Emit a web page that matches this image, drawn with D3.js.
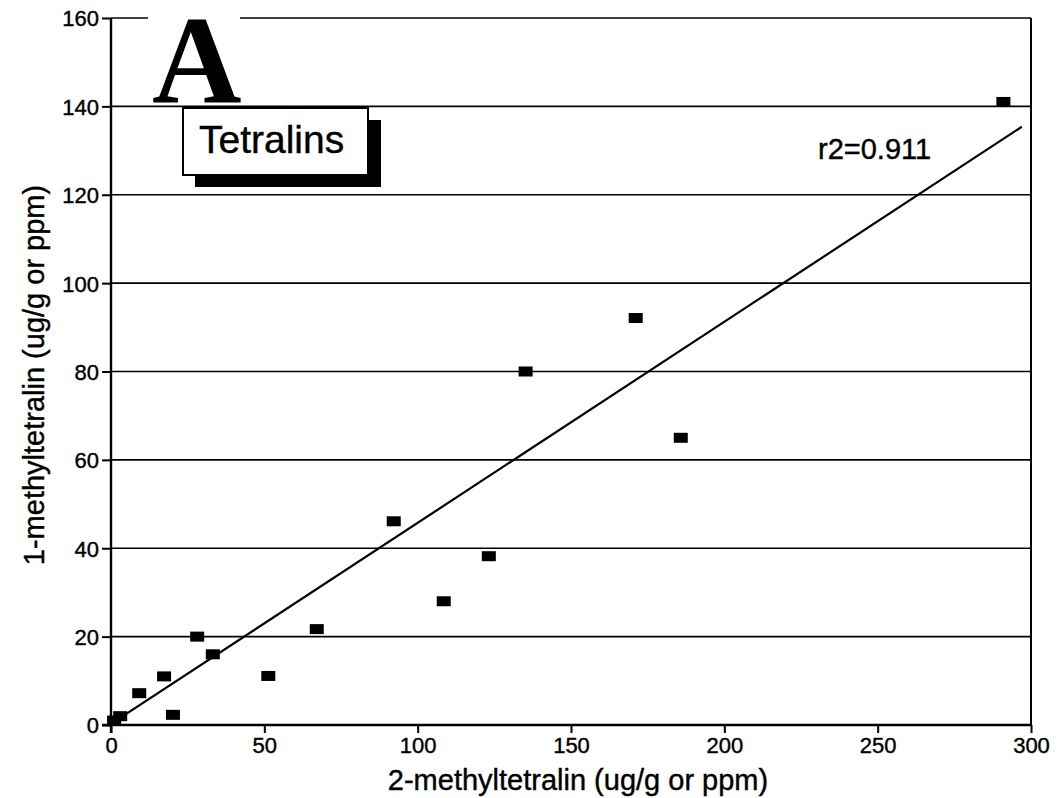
<!DOCTYPE html>
<html>
<head>
<meta charset="utf-8">
<script src="https://cdn.jsdelivr.net/npm/d3@7"></script>
<style>
  body { margin: 0; background: #fff; }
  svg { display: block; }
  .tick text { font-family: "Liberation Sans", Arial, sans-serif; font-size: 22px; fill: #000; stroke: #000; stroke-width: 0.4px; }
  .lbl { fill: #000; stroke: #000; stroke-width: 0.4px; }
</style>
</head>
<body>
<svg id="chart"></svg>
<script>
// 2-methyltetralin (x) vs 1-methyltetralin (y), ug/g
var methyl2 = [1, 3, 9.2, 17.3, 20.2, 28.1, 33.2, 51.3, 67.1, 92.2, 108.5, 123.2, 135.2, 171.1, 185.8, 291];
var methyl1 = [1, 2, 7.2, 11, 2.3, 20, 16, 11.1, 21.7, 46.1, 28, 38.2, 80, 92.1, 65, 141];

var xTicks = [0, 50, 100, 150, 200, 250, 300];
var yTicks = [0, 20, 40, 60, 80, 100, 120, 140, 160];

// fitted line as printed on the chart
var fitSlope = 0.455,
    fitIntercept = 0.25,
    fitFrom = 1,
    fitTo = 297,
    fitLabel = "r2=0.911";

var width = 1060, height = 798;
var svg = d3.select("#chart").attr("width", width).attr("height", height);

var x = d3.scaleLinear().domain([0, 300]).range([111, 1031]);
var y = d3.scaleLinear().domain([0, 160]).range([725, 18]);

var font = '"Liberation Sans", Arial, sans-serif';

// horizontal grid lines
svg.append("g")
  .selectAll("line")
  .data(yTicks.filter(function(d) { return d > 0; }))
  .enter().append("line")
  .attr("x1", x(0)).attr("x2", x(300))
  .attr("y1", function(d) { return y(d); })
  .attr("y2", function(d) { return y(d); })
  .attr("stroke", "#000")
  .attr("stroke-width", 1.7);

// right border
svg.append("line")
  .attr("x1", x(300)).attr("x2", x(300))
  .attr("y1", y(0)).attr("y2", y(160))
  .attr("stroke", "#000").attr("stroke-width", 2);

// x axis
var xAxis = svg.append("g")
  .attr("transform", "translate(0," + y(0) + ")")
  .call(d3.axisBottom(x).tickValues(xTicks).tickSize(8).tickPadding(4).tickFormat(d3.format("d")));
xAxis.select(".domain").attr("stroke", "#000").attr("stroke-width", 2.4).attr("d", "M" + (x(0) - 9) + ",0H" + x(300));
xAxis.selectAll(".tick line").attr("stroke", "#000").attr("stroke-width", 2);

// y axis
var yAxis = svg.append("g")
  .attr("transform", "translate(" + x(0) + ",0)")
  .call(d3.axisLeft(y).tickValues(yTicks).tickSize(9).tickPadding(3).tickFormat(d3.format("d")));
yAxis.select(".domain").attr("stroke", "#000").attr("stroke-width", 2.4).attr("d", "M0," + y(160) + "V" + (y(0) + 8));
yAxis.selectAll(".tick line").attr("stroke", "#000").attr("stroke-width", 2);
yAxis.selectAll(".tick text").attr("dy", "0.36em");

// regression line
svg.append("line")
  .attr("x1", x(fitFrom)).attr("y1", y(fitIntercept + fitSlope * fitFrom))
  .attr("x2", x(fitTo)).attr("y2", y(fitIntercept + fitSlope * fitTo))
  .attr("stroke", "#000").attr("stroke-width", 2.2);

// points
svg.append("g")
  .selectAll("rect")
  .data(methyl2.map(function(d, i) { return [d, methyl1[i]]; }))
  .enter().append("rect")
  .attr("x", function(d) { return x(d[0]) - 7; })
  .attr("y", function(d) { return y(d[1]) - 5; })
  .attr("width", 14)
  .attr("height", 10)
  .attr("fill", "#000");

svg.append("text")
  .attr("class", "lbl")
  .attr("x", 818).attr("y", 159)
  .attr("font-family", font).attr("font-size", 29)
  .text(fitLabel);

// big panel letter, breaking the top line
svg.append("rect")
  .attr("x", 148).attr("y", 10).attr("width", 92).attr("height", 16)
  .attr("fill", "#fff");
svg.append("text")
  .attr("x", 152).attr("y", 102)
  .attr("font-family", '"Liberation Serif", "Times New Roman", serif')
  .attr("font-weight", "bold")
  .attr("font-size", 124)
  .text("A");

// Tetralins label box with drop shadow
svg.append("rect")
  .attr("x", 195).attr("y", 120).attr("width", 186).attr("height", 67)
  .attr("fill", "#000");
svg.append("rect")
  .attr("x", 183).attr("y", 108).attr("width", 185).attr("height", 67)
  .attr("fill", "#fff").attr("stroke", "#000").attr("stroke-width", 2);
svg.append("text")
  .attr("class", "lbl")
  .attr("x", 199).attr("y", 153)
  .attr("font-family", font).attr("font-size", 39)
  .text("Tetralins");

// axis titles
svg.append("text")
  .attr("class", "lbl")
  .attr("x", 578).attr("y", 790)
  .attr("text-anchor", "middle")
  .attr("font-family", font).attr("font-size", 29)
  .text("2-methyltetralin (ug/g or ppm)");

svg.append("text")
  .attr("class", "lbl")
  .attr("transform", "translate(44,375) rotate(-90)")
  .attr("text-anchor", "middle")
  .attr("font-family", font).attr("font-size", 29)
  .text("1-methyltetralin (ug/g or ppm)");
</script>
</body>
</html>
